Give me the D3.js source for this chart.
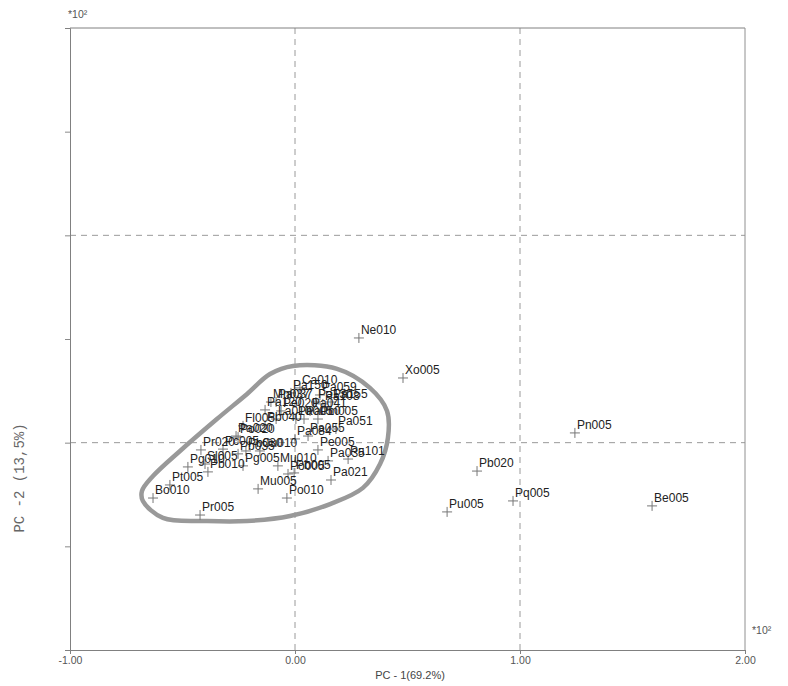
<!DOCTYPE html>
<html>
<head>
<meta charset="utf-8">
<script src="https://cdn.jsdelivr.net/npm/d3@7"></script>
<style>
  body { margin: 0; background: #fff; }
</style>
</head>
<body>
<div id="chart"></div>
<script>
// sample names and their scores on PC-1 / PC-2 (*10^2)
var names = ["Ne010", "Xo005", "Pn005", "Pb020", "Pq005", "Pu005", "Be005",
             "Bo010", "Pt005", "Pr005", "Mu005", "Po010", "Pa021", "Po005",
             "Pb005", "Mu010", "Pa035", "Pa101", "Pe005", "Pa051", "Pa084",
             "Pa055", "Pa020", "Po020", "Fl005", "Pb040", "La010", "Pa005",
             "Pa010", "Pm005", "Pa120", "Pe020", "Pa041", "Mn037", "Pa037",
             "Pa130", "Pa108", "Pa155", "Pa150", "Ca010", "Pa059", "Pr020",
             "Pc005", "Pb030", "Pb035", "Cu010", "Pg010", "Sl005", "Pb010",
             "Pg005"];
var pc1 = [0.284, 0.480, 1.244, 0.809, 0.969, 0.676, 1.587,
           -0.631, -0.556, -0.422, -0.164, -0.036, 0.160, -0.031,
           -0.004, -0.076, 0.147, 0.236, 0.102, 0.182, 0.000,
           0.058, -0.262, -0.253, -0.231, -0.133, -0.084, 0.004,
           0.040, 0.102, -0.133, -0.062, 0.067, -0.107, -0.084,
           0.093, 0.124, 0.160, -0.018, 0.022, 0.111, -0.418,
           -0.320, -0.218, -0.253, -0.156, -0.476, -0.400, -0.387,
           -0.231];
var pc2 = [0.505, 0.312, 0.047, -0.137, -0.281, -0.334, -0.305,
           -0.267, -0.204, -0.349, -0.223, -0.267, -0.180, -0.151,
           -0.146, -0.112, -0.088, -0.079, -0.035, 0.066, 0.018,
           0.032, 0.032, 0.027, 0.081, 0.085, 0.114, 0.114,
           0.114, 0.114, 0.158, 0.153, 0.153, 0.196, 0.196,
           0.196, 0.187, 0.196, 0.240, 0.264, 0.230, -0.035,
           -0.031, -0.040, -0.054, -0.040, -0.117, -0.103, -0.141,
           -0.112];

// hand-drawn loop round the main group (same units)
var loopX = [-0.009, 0.187, 0.333, 0.409, 0.413, 0.378, 0.302, 0.156, -0.022,
             -0.213, -0.391, -0.587, -0.676, -0.680, -0.631, -0.511, -0.347,
             -0.213, -0.111];
var loopY = [0.370, 0.356, 0.264, 0.153, 0.023, -0.103, -0.218, -0.296, -0.354,
             -0.378, -0.378, -0.363, -0.281, -0.233, -0.161, -0.040, 0.114,
             0.235, 0.331];

var xTicks = [-1, 0, 1, 2];
var xTickLabels = ["-1.00", "0.00", "1.00", "2.00"];
var yTicks = [-0.5, 0, 0.5, 1, 1.5];
var gridX = [0, 1];
var gridY = [0, 1];

var svgW = 788, svgH = 686;
var plotL = 70, plotR = 745, plotT = 28, plotB = 650;

var x = d3.scaleLinear().domain([-1, 2]).range([plotL, plotR]);
var y = d3.scaleLinear().domain([-1, 2]).range([plotB, plotT]);

var svg = d3.select("#chart").append("svg")
    .attr("width", svgW)
    .attr("height", svgH);

// dashed grid
svg.selectAll("line.gx").data(gridX).enter().append("line")
    .attr("class", "gx")
    .attr("x1", function(d) { return x(d); })
    .attr("x2", function(d) { return x(d); })
    .attr("y1", plotT).attr("y2", plotB)
    .attr("stroke", "#9a9a9a")
    .attr("stroke-dasharray", "6,5");
svg.selectAll("line.gy").data(gridY).enter().append("line")
    .attr("class", "gy")
    .attr("y1", function(d) { return y(d); })
    .attr("y2", function(d) { return y(d); })
    .attr("x1", plotL).attr("x2", plotR)
    .attr("stroke", "#9a9a9a")
    .attr("stroke-dasharray", "6,5");

// axes
var xAxis = d3.axisBottom(x).tickValues(xTicks).tickSize(4)
    .tickFormat(function(d, i) { return xTickLabels[i]; });
var gx = svg.append("g").attr("transform", "translate(0," + plotB + ")").call(xAxis);
gx.select(".domain").attr("stroke", "#808080");
gx.selectAll(".tick line").attr("stroke", "#808080");
gx.selectAll(".tick text")
    .attr("font-family", "Liberation Sans, Arial, sans-serif")
    .attr("font-size", 10.5)
    .attr("fill", "#555");

var yAxis = d3.axisLeft(y).tickValues(yTicks).tickSize(5).tickFormat("");
var gy = svg.append("g").attr("transform", "translate(" + plotL + ",0)").call(yAxis);
gy.select(".domain").attr("stroke", "#808080");
gy.selectAll(".tick line").attr("stroke", "#8a8a8a");

// top and right frame
svg.append("line").attr("x1", plotL).attr("x2", plotR).attr("y1", plotT).attr("y2", plotT)
    .attr("stroke", "#808080");
svg.append("line").attr("x1", plotR).attr("x2", plotR).attr("y1", plotT).attr("y2", plotB)
    .attr("stroke", "#909090");

// the loop
var loopPts = loopX.map(function(d, i) { return [d, loopY[i]]; });
svg.append("path")
    .attr("d", d3.line()
        .x(function(d) { return x(d[0]); })
        .y(function(d) { return y(d[1]); })
        .curve(d3.curveCatmullRomClosed)(loopPts))
    .attr("fill", "none")
    .attr("stroke", "#999")
    .attr("stroke-width", 4.5);

// points as crosses
var pts = names.map(function(n, i) { return { name: n, a: pc1[i], b: pc2[i] }; });
var s = 5;
svg.selectAll("path.pt").data(pts).enter().append("path")
    .attr("class", "pt")
    .attr("d", function(d) {
        var cx = x(d.a), cy = y(d.b);
        return "M" + (cx - s) + "," + cy + "H" + (cx + s) +
               "M" + cx + "," + (cy - s) + "V" + (cy + s);
    })
    .attr("stroke", "#777")
    .attr("stroke-width", 1);

svg.selectAll("text.lab").data(pts).enter().append("text")
    .attr("class", "lab")
    .attr("x", function(d) { return x(d.a) + 2; })
    .attr("y", function(d) { return y(d.b) - 4; })
    .attr("font-family", "Liberation Sans, Arial, sans-serif")
    .attr("font-size", 12)
    .attr("fill", "#222")
    .text(function(d) { return d.name; });

// axis titles and multipliers
svg.append("text")
    .attr("x", 410).attr("y", 679)
    .attr("text-anchor", "middle")
    .attr("font-family", "Liberation Sans, Arial, sans-serif")
    .attr("font-size", 11)
    .attr("fill", "#444")
    .text("PC - 1(69.2%)");

svg.append("text")
    .attr("transform", "translate(24,478) rotate(-90)")
    .attr("text-anchor", "middle")
    .attr("font-family", "Liberation Mono, Courier New, monospace")
    .attr("font-size", 14)
    .attr("fill", "#666")
    .text("PC -2 (13,5%)");

svg.append("text")
    .attr("x", 68).attr("y", 18)
    .attr("font-family", "Liberation Sans, Arial, sans-serif")
    .attr("font-size", 10.5)
    .attr("fill", "#555")
    .text("*10²");

svg.append("text")
    .attr("x", 752).attr("y", 634)
    .attr("font-family", "Liberation Sans, Arial, sans-serif")
    .attr("font-size", 10.5)
    .attr("fill", "#555")
    .text("*10²");
</script>
</body>
</html>
